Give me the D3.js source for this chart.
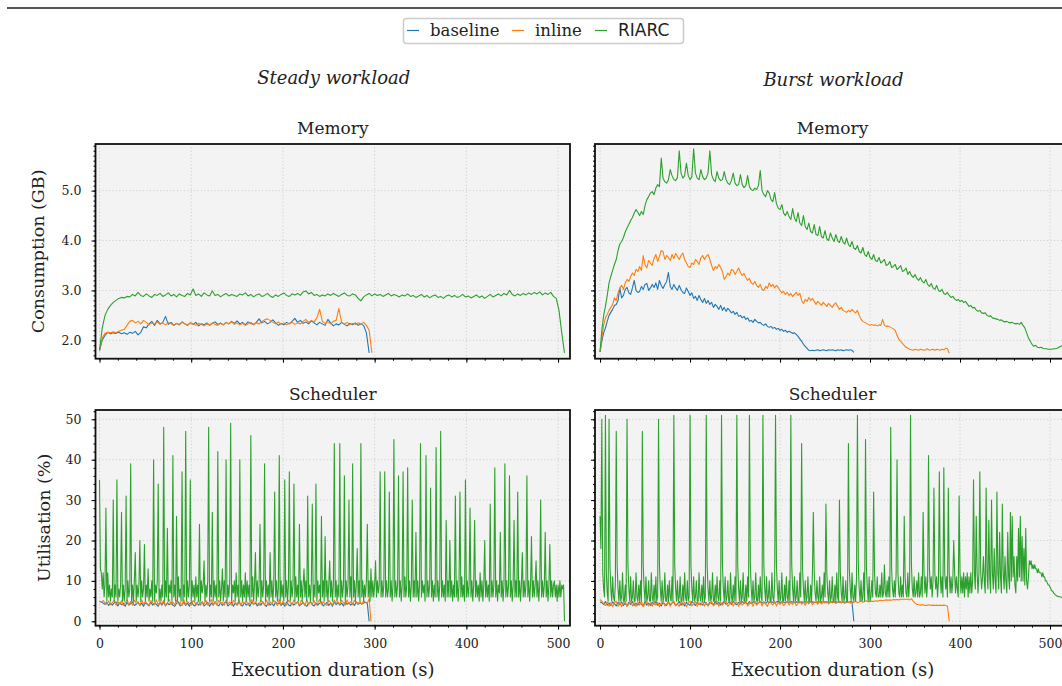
<!DOCTYPE html>
<html><head><meta charset="utf-8">
<script src="https://cdn.jsdelivr.net/npm/d3@7"></script>
<style>body{margin:0;background:#fff}svg{display:block}</style>
</head><body><svg id="c" width="1062" height="686"></svg>
<script>
// ---------------- DATA ----------------
const seriesNames = ["baseline", "inline", "RIARC"];
const workloadTitles = ["Steady workload", "Burst workload"];
const panelTitles = ["Memory", "Scheduler"];
const memTicks = [2.0, 3.0, 4.0, 5.0];
const schedTicks = [0, 10, 20, 30, 40, 50];
const timeTicks = [0, 100, 200, 300, 400, 500];
const yLabels = ["Consumption (GB)", "Utilisation (%)"];
const xLabel = "Execution duration (s)";

// sampling interval (seconds) of each recorded series
const memSteadyStep = 3, memBurstStep = 2, schedStep = 2, schedRiarcStep = 1;

// Memory, steady workload (GB)
const steadyMemBaseline = [1.80,2.00,2.10,2.16,2.13,2.15,2.14,2.16,2.13,2.15,
2.12,2.16,2.14,2.18,2.11,2.16,2.27,2.25,2.33,2.38,
2.30,2.40,2.33,2.36,2.48,2.32,2.36,2.30,2.34,2.31,
2.37,2.33,2.30,2.35,2.32,2.36,2.29,2.33,2.31,2.35,
2.30,2.34,2.37,2.32,2.35,2.31,2.36,2.33,2.38,2.34,
2.39,2.33,2.36,2.31,2.37,2.34,2.32,2.36,2.43,2.35,
2.38,2.33,2.36,2.41,2.35,2.30,2.34,2.31,2.36,2.33,
2.38,2.44,2.36,2.40,2.34,2.37,2.33,2.39,2.35,2.31,
2.36,2.33,2.30,2.42,2.35,2.29,2.33,2.31,2.36,2.32,
2.29,2.34,2.31,2.35,2.30,2.33,2.30,2.15,1.75];
const steadyMemInline = [1.80,2.05,2.14,2.16,2.15,2.17,2.15,2.18,2.20,2.22,
2.30,2.38,2.40,2.35,2.38,2.33,2.40,2.36,2.31,2.35,
2.33,2.37,2.32,2.35,2.31,2.36,2.33,2.30,2.34,2.32,
2.36,2.33,2.31,2.35,2.33,2.30,2.34,2.32,2.29,2.33,
2.31,2.35,2.32,2.30,2.34,2.31,2.36,2.33,2.37,2.32,
2.35,2.31,2.34,2.30,2.33,2.36,2.31,2.35,2.33,2.38,
2.41,2.43,2.40,2.36,2.33,2.37,2.32,2.35,2.31,2.34,
2.36,2.32,2.35,2.33,2.38,2.42,2.36,2.40,2.37,2.45,
2.62,2.38,2.34,2.37,2.33,2.38,2.40,2.64,2.36,2.33,
2.36,2.31,2.34,2.32,2.35,2.33,2.36,2.30,2.20,1.75];
const steadyMemRIARC = [1.80,2.25,2.50,2.62,2.70,2.76,2.80,2.84,2.86,2.85,
2.88,2.87,2.92,2.89,2.96,2.90,2.88,2.93,2.89,2.86,
2.92,2.90,2.94,2.88,2.91,2.95,2.89,2.92,2.87,2.93,
2.90,2.88,2.94,2.91,3.03,2.90,2.93,2.88,2.95,2.91,
2.89,2.99,2.90,2.92,2.87,2.91,2.94,2.89,2.92,2.90,
2.88,2.93,2.91,2.95,2.89,2.92,2.87,2.91,2.93,2.88,
2.90,2.94,2.89,2.86,2.91,2.88,2.92,2.95,2.90,2.88,
2.93,2.91,2.94,2.90,2.97,2.99,2.93,2.96,2.90,2.92,
2.88,2.91,2.89,2.93,2.90,2.94,2.91,2.88,2.92,2.95,
2.90,2.89,2.93,2.91,2.84,2.79,2.87,2.91,2.94,2.89,
2.93,2.90,2.92,2.88,2.91,2.94,2.89,2.92,2.90,2.87,
2.91,2.89,2.93,2.88,2.90,2.86,2.89,2.92,2.87,2.90,
2.85,2.89,2.91,2.86,2.88,2.84,2.89,2.91,2.87,2.90,
2.86,2.88,2.92,2.87,2.89,2.85,2.88,2.91,2.86,2.89,
2.84,2.88,2.92,2.87,2.90,2.93,2.89,2.94,2.91,3.00,
2.92,2.89,2.93,2.90,2.94,2.91,2.95,2.92,2.96,2.93,
2.97,2.91,2.95,2.92,2.96,2.88,2.84,2.60,2.15,1.75];

// Memory, burst workload (GB)
const burstMemBaseline = [1.77,1.98,2.15,2.25,2.38,2.50,2.56,2.62,2.70,2.72,
2.80,3.05,2.85,2.90,3.02,3.06,2.95,2.92,3.05,3.20,
3.00,2.96,2.98,3.08,3.02,3.12,3.14,3.00,3.05,3.12,
3.06,3.15,3.02,3.20,3.10,3.04,3.12,3.18,3.36,3.08,
3.02,3.12,3.05,3.00,3.10,3.02,2.96,2.94,3.05,2.98,
2.90,2.95,2.84,2.88,2.80,2.90,2.82,2.76,2.84,2.74,
2.80,2.72,2.76,2.66,2.72,2.68,2.62,2.70,2.60,2.66,
2.58,2.64,2.60,2.55,2.58,2.52,2.56,2.48,2.50,2.45,
2.48,2.42,2.45,2.38,2.40,2.36,2.42,2.38,2.35,2.36,
2.32,2.30,2.33,2.28,2.26,2.28,2.24,2.26,2.22,2.24,
2.20,2.22,2.18,2.20,2.16,2.18,2.16,2.14,2.15,2.12,
2.08,2.03,1.98,1.92,1.88,1.84,1.80,1.79,1.80,1.79,
1.80,1.81,1.79,1.80,1.81,1.80,1.79,1.81,1.80,1.81,
1.80,1.79,1.81,1.80,1.81,1.79,1.80,1.81,1.80,1.81,
1.80,1.76];
const burstMemInline = [1.77,2.05,2.30,2.45,2.52,2.60,2.66,2.72,2.85,2.80,
2.95,3.05,3.10,3.02,3.15,3.22,3.18,3.28,3.35,3.30,
3.42,3.38,3.48,3.40,3.70,3.52,3.45,3.60,3.55,3.50,
3.64,3.72,3.58,3.68,3.80,3.78,3.62,3.70,3.66,3.60,
3.72,3.64,3.74,3.68,3.62,3.70,3.75,3.62,3.55,3.48,
3.46,3.55,3.52,3.62,3.58,3.52,3.65,3.70,3.62,3.68,
3.72,3.62,3.50,3.40,3.48,3.44,3.52,3.46,3.38,3.22,
3.28,3.35,3.30,3.42,3.40,3.32,3.38,3.45,3.36,3.30,
3.34,3.26,3.20,3.24,3.15,3.12,3.18,3.10,3.06,3.12,
3.02,3.00,3.08,3.04,3.15,3.08,3.12,3.05,3.10,3.06,
3.00,2.95,2.98,2.92,2.96,2.90,2.94,2.88,2.92,2.96,
2.90,2.94,2.80,2.74,2.82,2.78,2.86,2.80,2.84,2.78,
2.72,2.78,2.74,2.70,2.76,2.72,2.68,2.74,2.70,2.66,
2.72,2.75,2.68,2.62,2.66,2.60,2.58,2.56,2.60,2.57,
2.62,2.58,2.55,2.60,2.50,2.42,2.38,2.36,2.34,2.32,
2.30,2.32,2.30,2.31,2.29,2.31,2.30,2.42,2.30,2.28,
2.29,2.27,2.25,2.23,2.20,2.10,2.02,1.98,1.94,1.90,
1.86,1.84,1.82,1.81,1.80,1.82,1.81,1.80,1.82,1.81,
1.80,1.81,1.83,1.80,1.81,1.82,1.80,1.82,1.81,1.80,
1.82,1.81,1.84,1.83,1.74];
const burstMemRIARC = [1.77,2.20,2.50,2.68,2.90,3.15,3.28,3.40,3.52,3.62,
3.80,3.93,3.98,4.06,4.17,4.25,4.32,4.40,4.46,4.55,
4.62,4.56,4.50,4.58,4.52,4.70,4.82,4.88,4.95,4.98,
4.92,5.05,5.12,5.08,5.65,5.25,5.18,5.15,5.22,5.42,
5.30,5.22,5.20,5.26,5.80,5.35,5.25,5.30,5.55,5.30,
5.22,5.28,5.84,5.35,5.25,5.22,5.42,5.28,5.22,5.25,
5.35,5.80,5.32,5.22,5.18,5.38,5.25,5.20,5.22,5.38,
5.22,5.15,5.12,5.20,5.35,5.15,5.10,5.12,5.32,5.12,
5.06,5.10,5.30,5.08,5.02,5.00,5.05,5.02,5.10,5.40,
5.00,4.92,4.88,5.00,4.95,4.82,4.78,4.96,4.74,4.65,
4.62,4.72,4.55,4.50,4.58,4.48,4.42,4.64,4.45,4.38,
4.56,4.35,4.30,4.50,4.28,4.22,4.35,4.18,4.15,4.32,
4.12,4.10,4.28,4.08,4.05,4.20,4.03,4.00,4.15,4.05,
3.98,4.12,4.00,3.96,4.08,3.97,3.93,4.05,3.92,3.88,
3.98,3.85,3.82,3.90,3.78,3.75,3.86,3.72,3.68,3.78,
3.66,3.62,3.72,3.60,3.58,3.66,3.55,3.58,3.62,3.50,
3.52,3.58,3.46,3.48,3.52,3.42,3.45,3.50,3.38,3.40,
3.45,3.32,3.38,3.30,3.26,3.32,3.24,3.20,3.26,3.18,
3.15,3.22,3.12,3.08,3.14,3.05,3.02,3.10,3.00,2.98,
3.02,2.94,2.92,2.96,2.90,2.86,2.88,2.83,2.80,2.82,
2.78,2.80,2.76,2.78,2.73,2.68,2.70,2.65,2.66,2.61,
2.58,2.60,2.55,2.54,2.55,2.50,2.48,2.49,2.45,2.44,
2.43,2.42,2.40,2.41,2.38,2.37,2.38,2.36,2.35,2.36,
2.34,2.33,2.34,2.32,2.36,2.30,2.25,2.15,2.05,1.98,
1.92,1.88,1.90,1.86,1.85,1.86,1.84,1.83,1.83,1.82,
1.82,1.82,1.83,1.83,1.84,1.86,1.88,1.90];

// Scheduler, steady workload (%)
const steadySchedBaseline = [4.9,4.8,4.5,4.2,4.7,3.9,4.5,4.0,4.6,4.8,
3.8,4.6,4.1,4.5,3.7,4.7,4.0,4.4,4.8,3.9,
4.2,4.8,3.9,4.5,3.7,4.6,4.2,3.8,4.8,4.0,
4.5,4.2,3.7,4.7,4.0,4.8,3.8,4.5,4.1,4.7,
4.0,3.7,4.5,4.8,3.8,4.2,4.7,3.9,4.5,3.7,
4.8,4.1,3.8,4.6,4.0,4.5,4.8,3.8,4.2,4.7,
3.7,4.5,4.0,4.8,4.2,3.8,4.6,3.9,4.5,4.9,
3.8,4.2,4.7,3.7,4.5,4.0,4.8,4.1,3.8,4.6,
4.0,4.5,3.7,4.8,4.2,4.6,3.8,4.5,4.0,4.8,
4.1,3.7,4.6,4.0,4.5,3.8,4.8,4.2,4.6,3.9,
4.5,3.7,4.8,4.1,3.8,4.6,4.0,4.5,4.8,3.8,
4.2,4.7,4.0,3.7,4.5,4.8,4.1,3.8,4.6,4.0,
4.5,4.8,3.8,4.2,4.7,3.9,4.5,3.7,4.8,4.1,
4.6,4.0,4.5,3.8,4.8,4.2,4.6,4.0,4.5,3.9,
4.8,4.2,4.6,4.3,4.5,4.7,4.5,0];
const steadySchedInline = [4.9,4.8,5.1,4.6,4.2,5.0,4.1,4.6,5.2,4.0,
4.8,4.3,5.1,3.9,4.6,5.3,4.1,4.9,4.0,5.2,
4.4,4.7,3.9,5.3,4.2,4.9,4.4,3.9,5.1,4.6,
4.1,5.3,4.0,4.8,4.3,5.2,3.9,4.6,5.4,4.1,
4.8,4.0,5.2,4.3,4.7,3.9,5.3,4.1,4.9,4.4,
4.0,5.1,4.6,4.1,5.3,3.9,4.8,4.3,5.2,4.0,
4.6,5.4,4.1,4.9,4.0,5.2,4.4,4.7,3.9,5.3,
4.3,4.8,4.0,5.2,4.6,4.1,5.3,3.9,4.9,4.4,
5.1,4.0,4.6,5.4,4.1,4.8,4.3,3.9,5.2,4.6,
4.1,5.3,4.0,4.8,4.3,5.2,4.6,3.9,5.4,4.1,
4.9,4.4,4.0,5.2,4.6,4.1,5.3,4.3,4.8,4.0,
5.2,4.6,3.9,5.3,4.1,4.9,4.3,5.1,4.0,4.6,
5.4,4.1,4.8,4.3,3.9,5.2,4.6,4.0,5.3,4.4,
4.8,4.1,5.2,4.6,4.0,5.3,4.3,4.9,4.1,5.2,
4.6,4.4,4.9,4.2,5.1,4.6,4.5,5.6,0];
const steadySchedRIARC = [35,13,12,8,12,6,9,28,5,12,6,9,5,8,6,30,5,9,6,35,
5,8,6,9,27,5,9,5,8,31,5,10,6,8,39,5,9,5,10,17,
5,9,6,9,20,5,10,6,8,19,5,9,6,13,5,8,6,10,5,40,
5,9,7,10,34,5,8,5,9,6,48,5,10,6,23,5,9,7,10,5,
41,6,9,5,26,5,11,6,8,5,37,5,9,6,47,5,10,6,9,35,
5,10,6,9,5,11,6,9,5,24,5,10,7,9,15,5,9,6,10,48,
5,9,6,27,5,10,6,9,5,42,6,10,5,8,13,5,10,6,40,5,
9,6,10,49,5,9,7,10,5,12,6,9,5,40,6,10,5,9,6,12,
5,10,6,9,5,46,6,11,5,9,17,5,10,6,9,24,5,10,6,9,
39,5,10,6,9,5,17,6,10,5,9,32,6,10,5,8,41,5,10,6,
9,5,35,6,10,5,9,37,5,10,6,9,34,5,11,6,9,5,24,6,
10,5,9,13,6,10,5,31,6,9,5,10,29,5,9,6,34,5,10,7,
9,5,26,6,10,5,21,6,10,5,9,15,6,10,5,9,44,6,10,5,
9,6,44,5,10,6,9,36,5,10,6,9,30,6,11,5,39,6,10,5,
9,18,6,10,5,44,6,10,5,9,6,10,24,6,10,5,13,6,10,6,
9,15,6,10,7,9,37,6,10,6,9,37,6,10,6,8,32,6,10,5,
9,45,6,10,6,9,36,6,10,5,9,37,6,11,6,9,38,6,10,5,
9,30,6,10,6,22,6,10,5,9,44,6,10,7,9,5,41,6,10,6,
9,33,6,10,5,9,6,43,6,10,5,9,47,6,10,6,9,5,25,6,
10,6,20,6,10,5,9,6,31,6,10,5,9,32,6,11,6,9,5,35,
6,10,6,9,28,6,10,5,9,25,6,10,6,9,5,12,6,10,5,9,
20,6,10,6,9,5,29,6,10,6,9,38,6,10,5,9,7,22,6,10,
5,9,39,6,10,6,9,36,6,10,5,9,25,6,10,6,32,6,10,5,
9,17,6,10,6,9,36,6,10,5,9,21,6,10,6,9,15,6,10,5,
9,30,6,10,6,9,22,6,10,5,9,19,6,10,6,9,10,6,9,5,
9,6,10,6,9,8,9,0];

// Scheduler, burst workload (%)
const burstSchedBaseline = [4.8,4.6,4.2,4.9,4.0,4.6,3.9,4.8,4.3,3.8,
4.7,4.1,4.8,3.9,4.5,3.8,4.7,4.2,4.9,3.9,
4.5,4.0,4.8,4.2,3.8,4.9,4.0,4.5,3.9,4.7,
4.2,4.9,4.0,4.5,3.8,4.7,4.2,3.9,4.9,4.1,
4.5,4.7,3.9,4.3,4.9,4.0,4.6,3.8,4.7,4.2,
4.0,4.9,4.4,3.9,4.7,4.2,4.5,4.0,4.9,4.3,
4.0,4.7,4.4,4.1,4.9,4.2,4.7,4.0,4.5,4.9,
4.2,4.5,4.8,4.2,4.9,4.4,4.1,4.7,4.3,4.9,
4.4,4.7,4.2,4.9,4.4,4.7,4.9,4.4,4.6,4.9,
4.5,4.8,4.4,4.9,4.6,4.8,4.7,4.5,4.8,4.9,
4.6,4.8,4.7,4.6,4.8,4.7,4.8,4.8,4.6,4.8,
4.7,4.6,4.8,4.7,4.8,4.7,4.8,4.7,4.8,4.7,
4.7,4.8,4.7,4.8,4.7,4.8,4.7,4.8,4.7,4.8,
4.7,4.8,4.7,4.8,4.7,4.8,4.7,4.8,4.7,4.8,
4.7,0];
const burstSchedInline = [5.4,5.0,4.4,3.9,4.8,3.7,4.6,3.6,4.5,5.0,
3.7,4.7,3.6,4.6,4.9,3.7,4.3,5.0,3.8,4.6,
3.7,4.8,4.0,5.0,3.6,4.3,4.9,3.8,4.6,3.7,
4.9,4.0,4.7,3.6,4.5,5.0,3.8,4.3,4.8,3.7,
4.6,5.0,3.8,4.3,3.7,4.9,4.0,4.7,3.6,4.5,
5.0,3.8,4.3,4.9,3.7,4.6,4.0,5.0,3.8,4.7,
3.7,4.5,4.9,3.8,4.3,5.0,3.7,4.7,4.0,4.5,
4.9,3.7,4.3,5.0,3.8,4.6,4.7,3.7,4.9,4.0,
4.5,5.0,3.8,4.3,4.8,3.7,4.9,4.0,4.5,5.0,
3.8,4.7,4.3,3.7,4.9,4.5,4.0,5.0,3.8,4.7,
4.2,4.8,3.9,4.4,5.0,4.0,4.7,4.2,4.9,3.9,
4.4,5.0,4.2,4.7,4.0,4.8,4.3,5.0,4.1,4.6,
4.8,4.2,4.9,4.3,4.8,4.5,4.9,4.3,4.8,4.5,
4.9,4.4,4.7,5.0,4.5,4.8,4.4,5.0,4.7,4.5,
4.9,4.6,5.0,4.6,4.8,5.1,4.7,4.9,5.1,4.8,
4.9,5.0,4.9,5.1,5.0,5.1,5.2,5.1,5.2,5.3,
5.2,5.3,5.2,5.4,5.3,5.4,5.3,5.5,5.4,5.5,
5.4,5.5,5.3,5.6,5.0,4.5,4.2,4.1,4.0,4.1,
4.0,3.9,4.0,4.1,3.9,4.0,3.9,4.0,3.9,4.0,
3.9,4.0,3.9,3.8,0];
const burstSchedRIARC = [26,18,50,12,8,6,51,12,7,5,
50,14,8,5,11,6,5,9,47,14,
8,5,10,5,6,12,5,5,9,5,
50,14,8,5,11,5,6,10,5,5,
12,6,5,9,5,10,5,47,14,8,
5,11,5,6,10,5,5,12,6,5,
9,5,11,5,6,50,14,8,5,10,
5,6,12,5,5,9,5,10,6,5,
11,5,51,14,8,5,10,5,6,11,
5,5,9,5,12,6,5,10,5,6,
51,14,8,5,11,5,6,10,5,5,
12,6,5,9,5,11,5,6,51,14,
8,5,10,5,6,12,5,5,9,5,
11,6,5,10,5,51,14,8,5,11,
5,6,10,5,5,12,6,5,9,5,
11,5,51,14,8,5,10,5,6,12,
5,5,9,5,11,6,51,14,8,5,
10,5,6,12,5,5,9,5,11,6,
5,51,14,8,5,11,5,6,10,5,
5,12,6,5,9,51,14,8,5,10,
5,6,12,5,5,9,5,11,6,5,
10,5,51,14,8,5,11,5,6,10,
5,5,12,6,44,13,8,5,10,5,
6,11,5,5,9,5,12,27,12,7,
5,10,6,5,11,5,6,9,5,12,
6,29,12,7,5,10,5,6,11,5,
5,9,5,12,6,5,30,12,7,5,
11,5,6,10,5,5,44,13,8,5,
12,6,5,9,5,11,51,14,8,5,
10,5,6,12,5,45,13,8,5,11,
5,6,10,6,32,12,7,6,11,6,
6,9,6,12,6,7,14,7,6,10,
6,11,6,48,13,8,6,10,6,12,
40,12,7,6,11,6,9,6,26,11,
7,6,12,6,10,51,14,8,6,11,
6,7,10,6,12,6,7,11,6,27,
12,7,11,6,10,41,13,8,11,6,
10,33,12,8,11,6,10,37,12,7,
11,6,38,12,8,11,6,33,12,7,
11,7,10,20,12,7,11,8,6,31,
12,7,11,7,12,6,11,8,12,6,
11,7,12,7,10,35,12,8,26,12,
7,12,37,12,8,11,16,10,7,33,
12,8,25,11,7,30,12,8,18,10,
7,32,12,8,22,11,7,29,12,8,
16,10,7,22,11,8,27,10,26,11,
16,9,7,16,10,23,11,26,10,21,
10,18,9,23,10,8,11,15,14,15,
13,14,13,14,13,13,12,13,12,12,
12,11,12,11,11,10,10,9.5,9,9,
8.5,8,7.5,7.5,7,6.8,6.5,6.4,6.2,6.2,
6.1,6,6,5.9,5.8];

// ---------------- DRAWING ----------------
const svg = d3.select("#c");
const SERIF = "'DejaVu Serif', serif";
const colors = {baseline: "#1f77b4", inline: "#ff7f0e", RIARC: "#2ca02c"};

svg.append("rect").attr("width", 1062).attr("height", 686).attr("fill", "#fff");
svg.append("line").attr("x1", 7).attr("x2", 1062).attr("y1", 8).attr("y2", 8)
  .attr("stroke", "#555").attr("stroke-width", 2);

const colX = [
  d3.scaleLinear().domain([-4.36, 513]).range([95.5, 570]),
  d3.scaleLinear().domain([-5.6, 522.2]).range([595, 1070])
];
const rowY = [
  d3.scaleLinear().domain([1.632, 5.934]).range([358.7, 144]),
  d3.scaleLinear().domain([-1.09, 52.3]).range([625.7, 410])
];

const panels = [
  {c: 0, r: 0, data: [[steadyMemBaseline, memSteadyStep], [steadyMemInline, memSteadyStep], [steadyMemRIARC, memSteadyStep]]},
  {c: 1, r: 0, data: [[burstMemBaseline, memBurstStep], [burstMemInline, memBurstStep], [burstMemRIARC, memBurstStep]]},
  {c: 0, r: 1, data: [[steadySchedBaseline, schedStep], [steadySchedInline, schedStep], [steadySchedRIARC, schedRiarcStep]]},
  {c: 1, r: 1, data: [[burstSchedBaseline, schedStep], [burstSchedInline, schedStep], [burstSchedRIARC, schedRiarcStep]]}
];

const defs = svg.append("defs");

function styleAxis(g, fontSize) {
  g.select(".domain").remove();
  g.selectAll(".tick line").attr("stroke", "#000").attr("stroke-width", 1);
  g.selectAll(".tick text").attr("font-family", SERIF).attr("font-size", fontSize).attr("fill", "#222");
}

panels.forEach((p, i) => {
  const x = colX[p.c], y = rowY[p.r];
  const [x0, x1] = x.range();
  const [yb, yt] = y.range();
  const g = svg.append("g");
  g.append("rect").attr("x", x0).attr("y", yt).attr("width", x1 - x0).attr("height", yb - yt).attr("fill", "#f3f3f3");

  const yMajor = p.r === 0 ? memTicks : schedTicks;
  g.selectAll(null).data(timeTicks).join("line")
    .attr("x1", d => x(d)).attr("x2", d => x(d)).attr("y1", yt).attr("y2", yb)
    .attr("stroke", "#c4c4c4").attr("stroke-width", 0.9).attr("stroke-dasharray", "1,2.4");
  g.selectAll(null).data(yMajor).join("line")
    .attr("x1", x0).attr("x2", x1).attr("y1", d => y(d)).attr("y2", d => y(d))
    .attr("stroke", "#c4c4c4").attr("stroke-width", 0.9).attr("stroke-dasharray", "1,2.4");

  const cid = "clip" + i;
  defs.append("clipPath").attr("id", cid).append("rect")
    .attr("x", x0).attr("y", yt).attr("width", x1 - x0).attr("height", yb - yt);
  const lg = g.append("g").attr("clip-path", `url(#${cid})`);
  const line = d3.line().x(d => x(d[0])).y(d => y(d[1]));
  p.data.forEach(([vals, step], k) => {
    const pts = vals.map((v, j) => [j * step, v]);
    lg.append("path").attr("d", line(pts)).attr("fill", "none")
      .attr("stroke", colors[seriesNames[k]]).attr("stroke-width", 1.1)
      .attr("stroke-linejoin", "round");
  });

  g.append("rect").attr("x", x0).attr("y", yt).attr("width", x1 - x0).attr("height", yb - yt)
    .attr("fill", "none").attr("stroke", "#111").attr("stroke-width", 1.8);

  // x axes
  const xMinor = d3.range(0, x.domain()[1], 20);
  const xa = g.append("g").attr("transform", `translate(0,${yb})`)
    .call(d3.axisBottom(x).tickValues(timeTicks).tickSize(4).tickPadding(9)
      .tickFormat(p.r === 1 ? d3.format("d") : () => ""));
  styleAxis(xa, 12.5);
  const xm = g.append("g").attr("transform", `translate(0,${yb})`)
    .call(d3.axisBottom(x).tickValues(xMinor).tickSize(2).tickFormat(() => ""));
  styleAxis(xm, 12.5);

  // y axes
  const yMinor = p.r === 0 ? d3.range(17, 60).map(d => d / 10) : d3.range(0, 53, 2);
  const fmt = p.c === 0 ? (p.r === 0 ? d3.format(".1f") : d3.format("d")) : () => "";
  const ya = g.append("g").attr("transform", `translate(${x0},0)`)
    .call(d3.axisLeft(y).tickValues(yMajor).tickSize(4).tickPadding(10).tickFormat(fmt));
  styleAxis(ya, 12.5);
  const ym = g.append("g").attr("transform", `translate(${x0},0)`)
    .call(d3.axisLeft(y).tickValues(yMinor).tickSize(2).tickFormat(() => ""));
  styleAxis(ym, 12.5);

  // panel title
  g.append("text").attr("x", (x0 + x1) / 2).attr("y", p.r === 0 ? 134 : 400)
    .attr("text-anchor", "middle").attr("font-family", SERIF).attr("font-size", 17)
    .attr("fill", "#222").text(panelTitles[p.r]);

  if (p.r === 1) {
    g.append("text").attr("x", (x0 + x1) / 2).attr("y", 676)
      .attr("text-anchor", "middle").attr("font-family", SERIF).attr("font-size", 18)
      .attr("fill", "#222").text(xLabel);
  }
  if (p.r === 0) {
    g.append("text").attr("x", (x0 + x1) / 2 + 1).attr("y", p.c === 0 ? 84 : 86)
      .attr("text-anchor", "middle").attr("font-family", SERIF).attr("font-style", "italic")
      .attr("font-size", 18).attr("fill", "#222").text(workloadTitles[p.c]);
  }
  if (p.c === 0) {
    const cx = p.r === 0 ? 38 : 44;
    g.append("text").attr("transform", `translate(${cx},${(yt + yb) / 2}) rotate(-90)`)
      .attr("text-anchor", "middle").attr("dy", "0.35em").attr("font-family", SERIF)
      .attr("font-size", 17.5).attr("fill", "#222").text(yLabels[p.r]);
  }
});

// legend
const leg = svg.append("g");
leg.append("rect").attr("x", 403.5).attr("y", 18.5).attr("width", 280).attr("height", 25).attr("rx", 3)
  .attr("fill", "#fff").attr("stroke", "#cccccc").attr("stroke-width", 1.5);
const legX = [407, 512, 595];
seriesNames.forEach((n, k) => {
  leg.append("line").attr("x1", legX[k]).attr("x2", legX[k] + 12).attr("y1", 30.5).attr("y2", 30.5)
    .attr("stroke", colors[n]).attr("stroke-width", 1.2);
  leg.append("text").attr("x", legX[k] + 23).attr("y", 36)
    .attr("font-family", n === "RIARC" ? "'DejaVu Sans', sans-serif" : SERIF)
    .attr("font-size", n === "RIARC" ? 17 : 16.5).attr("fill", "#222").text(n);
});
</script></body></html>
